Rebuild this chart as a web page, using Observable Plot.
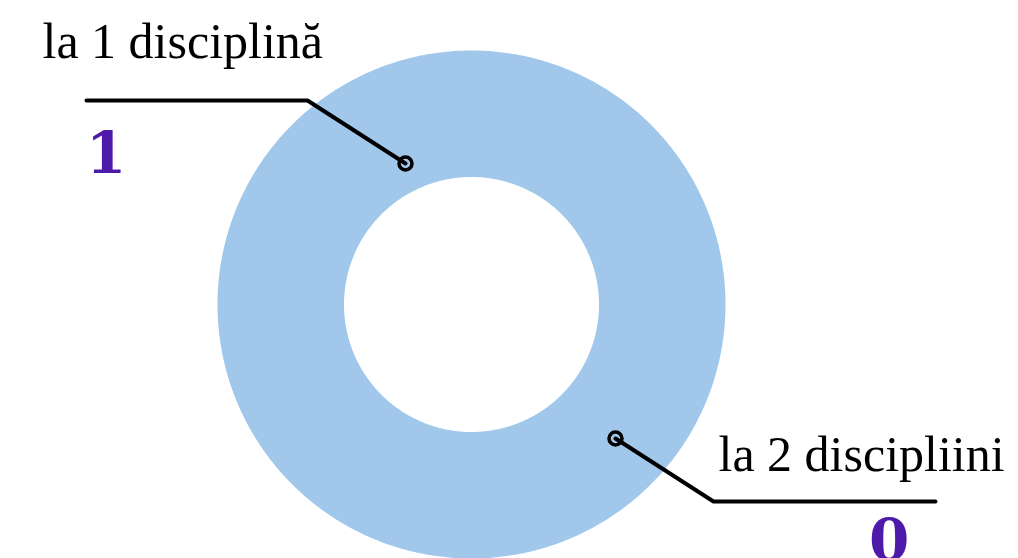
<!DOCTYPE html>
<html>
<head>
<meta charset="utf-8">
<script src="https://cdn.jsdelivr.net/npm/d3@7"></script>
<script src="https://cdn.jsdelivr.net/npm/@observablehq/plot@0.6"></script>
<style>
  html, body { margin: 0; padding: 0; background: #fff; overflow: hidden; }
  #chart svg { display: block; }
</style>
</head>
<body>
<div id="chart"></div>
<script>
// ---- data ----
const categories = ["la 1 disciplină", "la 2 discipliini"];
const values = [1, 0];

// ---- layout (pixels relative to donut centre, y downward) ----
const W = 1018, H = 558;
const CX = 471, CY = 304;
const R_OUT = 254, R_IN = 127.5;
const sliceColor = "#a1c8eb";
const numberColor = "#4e1aa9";

// leader / label layout for each category
const leaderAnchor = [[-66, -141], [144, 134]];
const leaderElbow  = [[-164, -204], [242, 197]];
const leaderEnd    = [[-385, -204], [464, 197]];
const labelPos     = [[-429, -247], [247, 166]];
const numberPos    = [[-385.5, -132], [397.5, 255]];

// ---- build slice polygons with d3.pie ----
const arcs = d3.pie().sort(null).startAngle(0).endAngle(2 * Math.PI)(values);
const slicePts = [];
arcs.forEach((a, i) => {
  if (a.endAngle - a.startAngle <= 0) return;
  const n = Math.max(8, Math.ceil((a.endAngle - a.startAngle) / (Math.PI / 360)));
  for (let k = 0; k <= n; k++) {
    const t = a.startAngle + (a.endAngle - a.startAngle) * k / n;
    slicePts.push({cat: categories[i], x: R_OUT * Math.sin(t), y: -R_OUT * Math.cos(t)});
  }
  for (let k = n; k >= 0; k--) {
    const t = a.startAngle + (a.endAngle - a.startAngle) * k / n;
    slicePts.push({cat: categories[i], x: R_IN * Math.sin(t), y: -R_IN * Math.cos(t)});
  }
});

const leaders = [];
categories.forEach((c, i) => {
  [leaderAnchor[i], leaderElbow[i], leaderEnd[i]].forEach(p => leaders.push({cat: c, x: p[0], y: p[1]}));
});
const labels = categories.map((c, i) => ({text: c, x: labelPos[i][0], y: labelPos[i][1]}));
const numbers = values.map((v, i) => ({text: String(v), x: numberPos[i][0], y: numberPos[i][1]}));
const anchors = categories.map((c, i) => ({x: leaderAnchor[i][0], y: leaderAnchor[i][1]}));

const chart = Plot.plot({
  width: W,
  height: H,
  margin: 0,
  x: {domain: [-CX, W - CX], axis: null},
  y: {domain: [H - CY, -CY], axis: null},
  style: {background: "transparent", overflow: "hidden"},
  marks: [
    Plot.line(slicePts, {x: "x", y: "y", z: "cat", fill: sliceColor, stroke: "none", curve: "linear-closed"}),
    Plot.line(leaders, {x: "x", y: "y", z: "cat", stroke: "#000", strokeWidth: 4, strokeLinecap: "round", strokeLinejoin: "round"}),
    Plot.dot(anchors, {x: "x", y: "y", r: 6.5, stroke: "#000", strokeWidth: 3.5, fill: "none"}),
    Plot.text(labels, {x: "x", y: "y", text: "text", textAnchor: "start", lineAnchor: "bottom",
      fontFamily: "Liberation Serif", fontSize: 50, fill: "#000"}),
    Plot.text(numbers, {x: "x", y: "y", text: "text", textAnchor: "start", lineAnchor: "bottom",
      fontFamily: "DejaVu Serif", fontWeight: "bold", fontSize: 58, fill: numberColor})
  ]
});
document.getElementById("chart").appendChild(chart);
</script>
</body>
</html>
